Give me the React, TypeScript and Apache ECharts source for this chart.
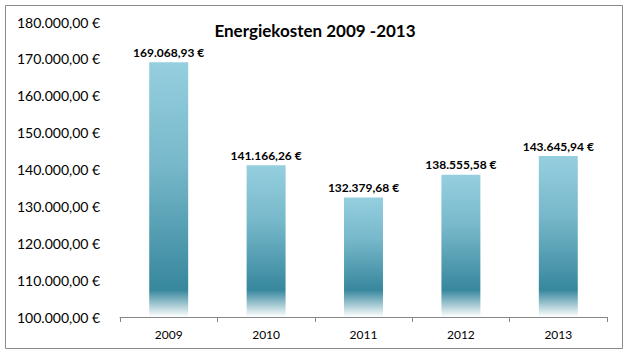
import React, { useEffect, useRef } from "react";
import * as echarts from "echarts";

const TITLE = "Energiekosten 2009 -2013";
const categories = ["2009", "2010", "2011", "2012", "2013"];
const values = [169068.93, 141166.26, 132379.68, 138555.58, 143645.94];
const yMin = 100000;
const yMax = 180000;
const yStep = 10000;

function fmtEuro(v: number): string {
  const fixed = Math.abs(v).toFixed(2);
  const [intPart, dec] = fixed.split(".");
  const withDots = intPart.replace(/\B(?=(\d{3})+(?!\d))/g, ".");
  return (v < 0 ? "-" : "") + withDots + "," + dec + " €";
}

const FONT = "Lato, 'Open Sans', sans-serif";

export default function App() {
  const ref = useRef<HTMLDivElement>(null);
  useEffect(() => {
    if (!ref.current) return;
    const chart = echarts.init(ref.current, null, { renderer: "svg" });
    const plotH = 355 - 22 - 38;
    const pxPerUnit = plotH / (yMax - yMin);
    const fadePx = 27;
    const data = values.map((v) => {
      const barPx = (v - yMin) * pxPerUnit;
      const darkAt = Math.max(0.5, 1 - fadePx / barPx);
      return {
        value: v,
        itemStyle: {
          color: new echarts.graphic.LinearGradient(0, 0, 0, 1, [
            { offset: 0, color: "#95cfdf" },
            { offset: darkAt * 0.45, color: "#77b8ca" },
            { offset: darkAt, color: "#37879d" },
            { offset: 1, color: "#ffffff" },
          ]),
        },
      };
    });
    chart.setOption({
      animation: false,
      backgroundColor: "#ffffff",
      title: {
        text: TITLE,
        left: 310,
        textAlign: "center",
        top: 17,
        textStyle: { fontFamily: FONT, fontWeight: "bold", fontSize: 17, color: "#000" },
      },
      graphic: [
        {
          type: "rect",
          shape: { x: 5.5, y: 5.5, width: 617, height: 343 },
          style: { fill: "none", stroke: "#8a8a8a", lineWidth: 1 },
          silent: true,
        },
      ],
      grid: { left: 120, right: 20, top: 22, bottom: 38 },
      xAxis: {
        type: "category",
        data: categories,
        axisLine: { show: true, lineStyle: { color: "#868686", width: 1 } },
        axisTick: { show: true, length: 5, lineStyle: { color: "#868686" } },
        axisLabel: { margin: 11, fontFamily: FONT, fontSize: 12, color: "#000" },
      },
      yAxis: {
        type: "value",
        min: yMin,
        max: yMax,
        interval: yStep,
        axisLine: { show: false },
        axisTick: { show: false },
        splitLine: { show: false },
        axisLabel: {
          align: "left",
          margin: 103,
          fontFamily: FONT,
          fontSize: 14,
          color: "#000",
          formatter: (v: number) => fmtEuro(v),
        },
      },
      series: [
        {
          type: "bar",
          data,
          barWidth: "40%",
          label: {
            show: true,
            position: "top",
            distance: 4,
            fontFamily: FONT,
            fontWeight: "bold",
            fontSize: 12,
            color: "#000",
            formatter: (p: any) => fmtEuro(p.value),
          },
        },
      ],
    });
    return () => chart.dispose();
  }, []);
  return (
    <div
      ref={ref}
      style={{ position: "fixed", left: 0, top: 0, width: 627, height: 355 }}
    />
  );
}
